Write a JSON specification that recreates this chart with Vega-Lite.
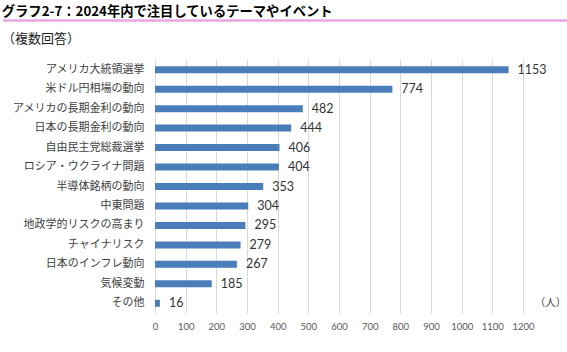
{
  "$schema": "https://vega.github.io/schema/vega-lite/v6.json",
  "padding": {"left": 1, "top": 4, "right": 2, "bottom": 2},
  "background": "white",
  "config": {
    "view": {"stroke": null},
    "font": "Noto Sans CJK JP"
  },
  "spacing": 11,
  "vconcat": [
    {
      "width": 412,
      "height": 1,
      "title": {
        "text": "グラフ2-7：2024年内で注目しているテーマやイベント",
        "anchor": "start",
        "frame": "bounds",
        "fontSize": 13.3,
        "fontWeight": "bold",
        "color": "#000000",
        "font": "Noto Sans CJK JP",
        "offset": 1
      },
      "data": {"values": [{"a": 0, "b": 1}]},
      "mark": {"type": "rule", "stroke": "#E8A6E2", "strokeWidth": 2.5},
      "encoding": {
        "x": {"field": "a", "type": "quantitative", "scale": {"domain": [0, 1], "range": [-152, 412]}, "axis": null},
        "x2": {"field": "b"}
      }
    },
    {
      "width": 368,
      "height": 253,
      "title": {
        "text": "（複数回答）",
        "anchor": "start",
        "fontSize": 13,
        "fontWeight": "normal",
        "color": "#222222",
        "font": "Noto Sans CJK JP",
        "offset": 14
      },
      "data": {
        "values": [
          {"item": "アメリカ大統領選挙", "count": 1153},
          {"item": "米ドル円相場の動向", "count": 774},
          {"item": "アメリカの長期金利の動向", "count": 482},
          {"item": "日本の長期金利の動向", "count": 444},
          {"item": "自由民主党総裁選挙", "count": 406},
          {"item": "ロシア・ウクライナ問題", "count": 404},
          {"item": "半導体銘柄の動向", "count": 353},
          {"item": "中東問題", "count": 304},
          {"item": "地政学的リスクの高まり", "count": 295},
          {"item": "チャイナリスク", "count": 279},
          {"item": "日本のインフレ動向", "count": 267},
          {"item": "気候変動", "count": 185},
          {"item": "その他", "count": 16}
        ]
      },
      "encoding": {
        "y": {
          "field": "item",
          "type": "nominal",
          "sort": null,
          "scale": {"paddingInner": 0.64, "paddingOuter": 0.32},
          "axis": {
            "title": null,
            "domain": false,
            "ticks": false,
            "grid": false,
            "labelFontSize": 11,
            "labelColor": "#404040",
            "labelPadding": 11,
            "minExtent": 153
          }
        },
        "x": {
          "field": "count",
          "type": "quantitative",
          "scale": {"domain": [0, 1200], "nice": false},
          "axis": {
            "values": [0, 100, 200, 300, 400, 500, 600, 700, 800, 900, 1000, 1100, 1200],
            "format": "d",
            "labelOverlap": false,
            "labelFlush": false,
            "title": "（人）",
            "titleFontSize": 10.5,
            "titleFontWeight": "normal",
            "titleColor": "#404040",
            "titleAngle": 0,
            "titleX": 395,
            "titleY": -16,
            "titleAlign": "center",
            "domain": false,
            "ticks": false,
            "grid": true,
            "gridColor": "#d9d9d9",
            "gridWidth": 1,
            "labelFontSize": 9.5,
            "labelColor": "#595959",
            "labelPadding": 8,
            "labelFont": "Lato"
          }
        }
      },
      "layer": [
        {"mark": {"type": "bar", "color": "#4A7EBB"}},
        {
          "mark": {"type": "text", "align": "left", "dx": 9, "fontSize": 12.5, "color": "#333333", "font": "Lato"},
          "encoding": {"text": {"field": "count", "type": "quantitative"}}
        }
      ]
    }
  ]
}
